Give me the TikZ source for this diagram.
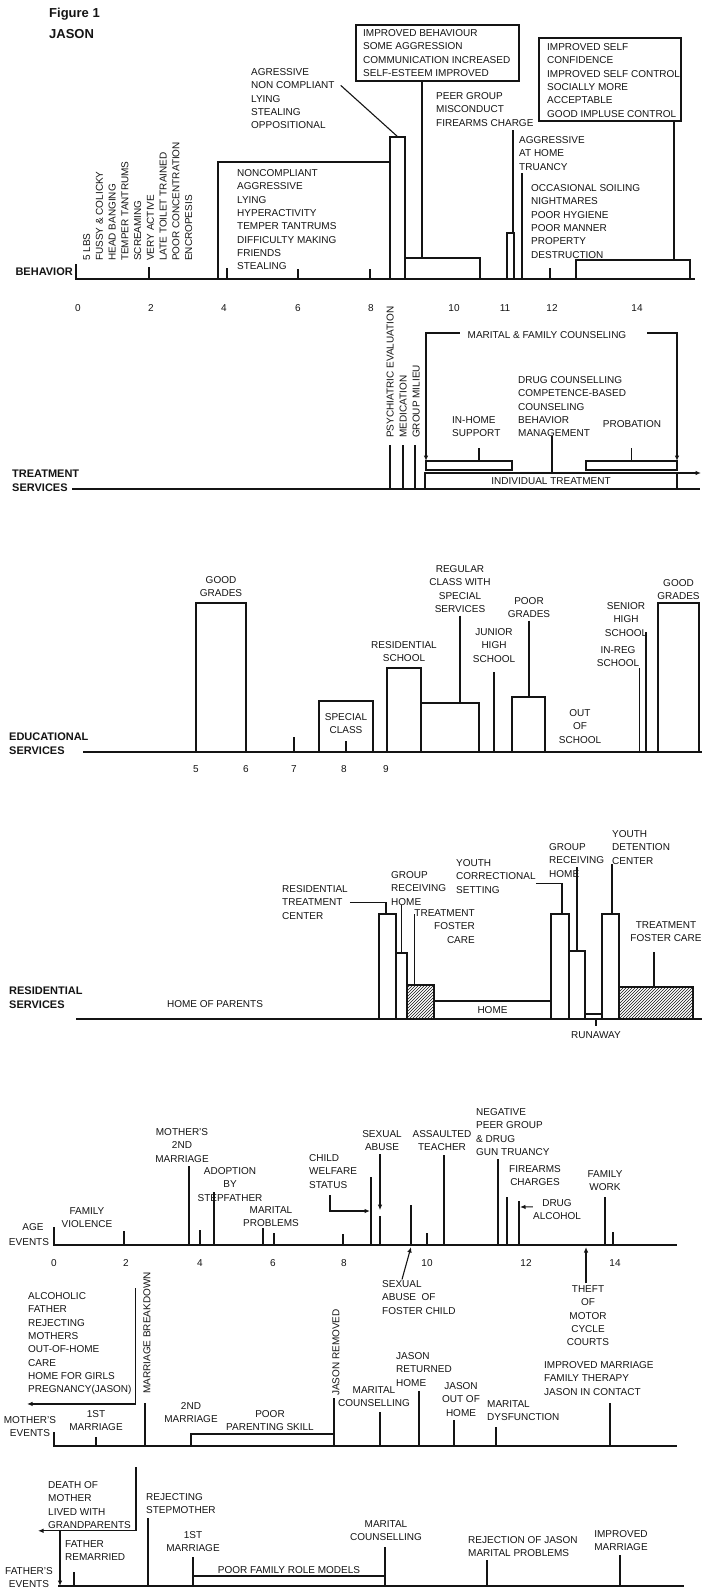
\documentclass[tikz,border=0pt]{standalone}
\usepackage{fontspec}
\setmainfont{Liberation Sans}
\usepackage{tikz}
\usetikzlibrary{arrows.meta,positioning,calc,patterns}
\definecolor{ink}{RGB}{20,20,20}
\tikzset{
  txt/.style={inner sep=0pt, text=ink, font=\fontsize{10}{13.3}\selectfont, align=left},
  ctxt/.style={txt, align=center},
  vtxt/.style={txt, rotate=90},
  axlbl/.style={inner sep=0pt, text=ink, font=\bfseries\fontsize{11}{14}\selectfont, align=left},
  ttl/.style={inner sep=0pt, text=ink, font=\bfseries\fontsize{13}{15}\selectfont, anchor=west},
  sbox/.style={txt, draw=ink, line width=1.4pt, outer sep=0pt, anchor=south west},
  hbox/.style={sbox, pattern=north east lines, pattern color=ink},
  tline/.style={draw=ink, line width=2.5pt},
  lead/.style={draw=ink, line width=1.1pt},
  evt/.style={draw=ink, line width=1.4pt},
  arr/.style={draw=ink, line width=1.1pt, -{Latex[length=5.5pt,width=4.5pt]}},
}

\begin{document}
\begin{tikzpicture}[x=1pt,y=-1pt]
  \useasboundingbox (0,0) rectangle (703,1590);
  \node[ttl] (fig) at (49,14) {Figure 1};
  \node[ttl] (jason) at (49,34) {JASON};

  % behavior
  \node[axlbl, anchor=east] (behLbl) at (73,272) {BEHAVIOR};
  \coordinate (b0) at (76,279);
  \coordinate (bEnd) at (695,279);
  \draw[tline] ([yshift=15pt]b0) -- (b0) -- (bEnd);
  \foreach \x/\h in {149/12,227/11,298/10,370/10,550/11}
    \draw[lead] (\x,279) -- ++(0,-\h);
  \node[vtxt, anchor=north west, font=\fontsize{10}{12.75}\selectfont] (bEarly) at (83,261)
    {5 LBS\\FUSSY \& COLICKY\\HEAD BANGING\\TEMPER TANTRUMS\\SCREAMING\\VERY ACTIVE\\LATE TOILET TRAINED\\POOR CONCENTRATION\\ENCROPESIS};
  \node[sbox, minimum width=172pt, minimum height=117pt] (bxA) at (218,279) {};
  \node[txt, anchor=north west] (bA) at ([xshift=19pt,yshift=-7.4pt]bxA.north west)
    {NONCOMPLIANT\\AGGRESSIVE\\LYING\\HYPERACTIVITY\\TEMPER TANTRUMS\\DIFFICULTY MAKING\\FRIENDS\\STEALING};
  \node[sbox, minimum width=15pt, minimum height=142pt] (bxB) at (390,279) {};
  \node[txt, anchor=north west] (bB) at (251,68.4) {AGRESSIVE\\NON COMPLIANT\\LYING\\STEALING\\OPPOSITIONAL};
  \draw[lead] ([xshift=6pt,yshift=-17pt]bB.north east) -- ([xshift=8pt]bxB.north west);
  \node[sbox, minimum width=75pt, minimum height=21pt] (bxC) at (405,279) {};
  \node[sbox, minimum width=163pt, minimum height=56pt] (bxD) at (356,81) {};
  \node[txt, anchor=north west] (bD) at ([xshift=7pt,yshift=-4.4pt]bxD.north west)
    {IMPROVED BEHAVIOUR\\SOME AGGRESSION\\COMMUNICATION INCREASED\\SELF-ESTEEM IMPROVED};
  \draw[lead] ([xshift=66pt]bxD.south west) -- ([xshift=17pt]bxC.north west);
  \node[txt, anchor=north west] (bP) at (436,92.4) {PEER GROUP\\MISCONDUCT\\FIREARMS CHARGE};
  \node[sbox, minimum width=7pt, minimum height=46pt] (bxE) at (507,279) {};
  \draw[lead] ([xshift=6pt]bxE.north west) -- ([xshift=6pt,yshift=103pt]bxE.north west);
  \node[txt, anchor=north west] (bH) at (519,136.4) {AGGRESSIVE\\AT HOME\\TRUANCY};
  \coordinate (bTru) at (522,279);
  \draw[lead] (bTru) -- ([xshift=3pt,yshift=-3pt]bH.south west);
  \node[txt, anchor=north west] (bO) at (531,184.4)
    {OCCASIONAL SOILING\\NIGHTMARES\\POOR HYGIENE\\POOR MANNER\\PROPERTY\\DESTRUCTION};
  \node[sbox, minimum width=114pt, minimum height=19pt] (bxF) at (576,279) {};
  \node[sbox, minimum width=142pt, minimum height=83pt] (bxG) at (539,121) {};
  \node[txt, anchor=north west] (bG) at ([xshift=8pt,yshift=-5.4pt]bxG.north west)
    {IMPROVED SELF\\CONFIDENCE\\IMPROVED SELF CONTROL\\SOCIALLY MORE\\ACCEPTABLE\\GOOD IMPLUSE CONTROL};
  \draw[lead] ([xshift=135pt]bxG.south west) -- ([xshift=98pt]bxF.north west);
  \foreach \x/\a in {78/0,151/2,224/4,298/6,371/8,454/10,505/11,552/12,637/14}
    \node[txt] (bn\a) at (\x,308) {\a};

  % treatment
  \node[axlbl, anchor=north west] (trLbl) at (12,470) {TREATMENT\\SERVICES};
  \coordinate (t0) at (72,489);
  \coordinate (tEnd) at (700,489);
  \draw[tline] (t0) -- (tEnd);
  \node[vtxt, anchor=north west, font=\fontsize{10}{13}\selectfont] (tPsy) at (386.4,438)
    {PSYCHIATRIC EVALUATION\\MEDICATION\\GROUP MILIEU};
  \foreach \x in {390,403,415}
    \draw[lead] (\x,489) coordinate (tp\x) -- ++(0,-44);
  \node[sbox, minimum width=252pt, minimum height=16pt] (tInd) at (425,489) {INDIVIDUAL TREATMENT};
  \coordinate (tArr) at (701,473);
  \draw[arr] (tInd.north east) -- (tArr);
  \node[sbox, minimum width=86pt, minimum height=9pt] (tHome) at (426,470) {};
  \node[sbox, minimum width=91pt, minimum height=9pt] (tProb) at (586,470) {};
  \node[txt, anchor=north west] (tHomeTxt) at (452,416.4) {IN-HOME\\SUPPORT};
  \draw[lead] ([xshift=53pt]tHome.north west) -- ([xshift=27pt,yshift=-11pt]tHomeTxt.south west);
  \node[txt] (tProbTxt) at (632,424) {PROBATION};
  \draw[lead] (tProb.north) -- ++(0,-13);
  \node[txt, anchor=north west] (tDrug) at (518,376.4)
    {DRUG COUNSELLING\\COMPETENCE-BASED\\COUNSELING\\BEHAVIOR\\MANAGEMENT};
  \draw[lead] ([xshift=127pt]tInd.north west) -- ++(0,-37);
  \node[txt] (tMfc) at (547,335) {MARITAL \& FAMILY COUNSELING};
  \draw[arr] ([xshift=-8pt,yshift=2pt]tMfc.west) -| (tHome.north west);
  \draw[arr] ([xshift=21pt,yshift=2pt]tMfc.east) -| (tProb.north east);

  % educational
  \node[axlbl, anchor=north west] (edLbl) at (9,733) {EDUCATIONAL\\SERVICES};
  \coordinate (e0) at (83,752);
  \coordinate (eEnd) at (702,752);
  \draw[tline] (e0) -- (eEnd);
  \node[sbox, minimum width=50pt, minimum height=149pt] (edGa) at (196,752) {};
  \node[ctxt, anchor=south] (edGaTxt) at ([yshift=6pt]edGa.north) {GOOD\\GRADES};
  \draw[lead] (294,752) coordinate (ed7) -- ++(0,-15);
  \node[sbox, minimum width=54pt, minimum height=51pt] (edSp) at (319,752) {};
  \node[ctxt, anchor=north] (edSpTxt) at ([yshift=-12pt]edSp.north) {SPECIAL\\CLASS};
  \draw[lead] (edSp.south) -- ([yshift=11pt]edSp.south);
  \node[sbox, minimum width=34pt, minimum height=84pt] (edRs) at (387,752) {};
  \node[ctxt, anchor=south] (edRsTxt) at ([yshift=6pt]edRs.north) {RESIDENTIAL\\SCHOOL};
  \node[sbox, minimum width=58pt, minimum height=49pt] (edRg) at (421,752) {};
  \node[ctxt, anchor=south] (edRgTxt) at (460,612.6) {REGULAR\\CLASS WITH\\SPECIAL\\SERVICES};
  \draw[lead] ([yshift=-3pt]edRgTxt.south) -- (edRgTxt.south |- edRg.north);
  \node[ctxt, anchor=north] (edJr) at (494,628.4) {JUNIOR\\HIGH\\SCHOOL};
  \draw[lead] ([yshift=-10pt]edJr.south) -- (edJr.south |- e0);
  \node[sbox, minimum width=33pt, minimum height=55pt] (edPg) at (512,752) {};
  \node[ctxt, anchor=south] (edPgTxt) at (529,617.6) {POOR\\GRADES};
  \draw[lead] ([yshift=-3pt]edPgTxt.south) -- (edPgTxt.south |- edPg.north);
  \node[ctxt] (edOut) at (580,726.5) {OUT\\OF\\SCHOOL};
  \node[ctxt, anchor=north] (edIn) at (618,646.4) {IN-REG\\SCHOOL};
  \draw[lead] ([yshift=-1pt]edIn.south east) -- (edIn.south east |- e0);
  \node[ctxt, anchor=north] (edSr) at (626,602.4) {SENIOR\\HIGH\\SCHOOL};
  \coordinate (edSrL) at (646,632);
  \draw[lead] (edSrL) -- (edSrL |- e0);
  \node[sbox, minimum width=41pt, minimum height=149pt] (edGb) at (658,752) {};
  \node[ctxt, anchor=south] (edGbTxt) at ([yshift=3pt]edGb.north) {GOOD\\GRADES};
  \foreach \x/\a in {196/5,246/6,294/7,344/8,386/9}
    \node[txt] (en\a) at (\x,769) {\a};

  % residential
  \node[axlbl, anchor=north west] (rsLbl) at (9,987) {RESIDENTIAL\\SERVICES};
  \coordinate (r0) at (76,1019);
  \coordinate (rEnd) at (702,1019);
  \draw[tline] (r0) -- (rEnd);
  \node[txt] (rsHop) at (215,1004) {HOME OF PARENTS};
  \node[sbox, minimum width=17pt, minimum height=105pt] (rsRtc) at (379,1019) {};
  \node[sbox, minimum width=11pt, minimum height=66pt] (rsGr1) at (396,1019) {};
  \node[hbox, minimum width=27pt, minimum height=34pt] (rsTf1) at (407,1019) {};
  \node[sbox, minimum width=117pt, minimum height=18pt] (rsHome) at (434,1019) {HOME};
  \node[sbox, minimum width=18pt, minimum height=105pt] (rsYc) at (551,1019) {};
  \node[sbox, minimum width=16pt, minimum height=68pt] (rsGr2) at (569,1019) {};
  \node[sbox, minimum width=17pt, minimum height=5pt] (rsRun) at (585,1019) {};
  \node[sbox, minimum width=17pt, minimum height=105pt] (rsYdc) at (602,1019) {};
  \node[hbox, minimum width=74pt, minimum height=32pt] (rsTf2) at (619,1019) {};
  \node[txt, anchor=north west] (rsRtcTxt) at (282,885.4) {RESIDENTIAL\\TREATMENT\\CENTER};
  \draw[lead] ([xshift=2pt]rsRtcTxt.east) -| ([xshift=7pt]rsRtc.north west);
  \node[txt, anchor=north west] (rsGr1Txt) at (391,871.4) {GROUP\\RECEIVING\\HOME};
  \draw[lead] (rsGr1.north) -- (rsGr1.north |- rsGr1Txt.south);
  \node[txt, align=right, anchor=north east] (rsTf1Txt) at (475,909.4) {TREATMENT\\FOSTER\\CARE};
  \draw[lead] ([yshift=-5pt]rsTf1Txt.north west) -- (rsTf1Txt.north west |- rsTf1.north);
  \node[txt, anchor=north west] (rsYcTxt) at (456,859.4) {YOUTH\\CORRECTIONAL\\SETTING};
  \draw[lead] ([yshift=-7pt]rsYcTxt.east) -| ([xshift=11pt]rsYc.north west);
  \node[txt, anchor=north west] (rsGr2Txt) at (549,843.4) {GROUP\\RECEIVING\\HOME};
  \coordinate (rsGr2Top) at (577,867);
  \draw[lead] (rsGr2.north) -- (rsGr2Top);
  \node[txt, anchor=north west] (rsYdcTxt) at (612,830.4) {YOUTH\\DETENTION\\CENTER};
  \draw[lead] (rsYdcTxt.south west) -- (rsYdcTxt.south west |- rsYdc.north);
  \node[ctxt, anchor=north] (rsTf2Txt) at (666,921.4) {TREATMENT\\FOSTER CARE};
  \draw[lead] ([xshift=35pt]rsTf2.north west) -- ([xshift=35pt,yshift=35pt]rsTf2.north west);
  \node[txt] (rsRunTxt) at (596,1035) {RUNAWAY};
  \draw[lead] (rsRunTxt.north |- rsRun.south) -- ([yshift=5pt]rsRunTxt.north);

  % age events
  \node[txt] (agLbl) at (33,1227) {AGE};
  \node[txt] (agLbl2) at (29,1242) {EVENTS};
  \coordinate (a0) at (54,1245);
  \coordinate (aEnd) at (677,1245);
  \draw[tline] ([yshift=18pt]a0) -- (a0) -- (aEnd);
  \foreach \x/\h in {124/14,200/15,263/17,274/12,343/11,427/12,613/13,380/29,189/79,371/68,411/40,444/90,498/86,507/48,519/44,605/48}
    \draw[evt] (\x,1245) coordinate (ak\x) -- ++(0,-\h);
  \draw[evt, line width=2pt] (214,1245) coordinate (ak214) -- ++(0,-53);
  \node[ctxt] (agFv) at (87,1217.5) {FAMILY\\VIOLENCE};
  \node[ctxt, anchor=north] (agM2) at (182,1128.4) {MOTHER'S\\2ND\\MARRIAGE};
  \node[ctxt, anchor=north] (agAd) at (230,1167.4) {ADOPTION\\BY\\STEPFATHER};
  \node[ctxt] (agMp) at (271,1216.5) {MARITAL\\PROBLEMS};
  \node[txt, anchor=north west] (agCw) at (309,1154.4) {CHILD\\WELFARE\\STATUS};
  \coordinate (cwMark) at (370,1211);
  \draw[arr] ([xshift=21pt,yshift=-7pt]agCw.south west) |- (cwMark);
  \node[ctxt, anchor=north] (agSa) at (382,1130.4) {SEXUAL\\ABUSE};
  \draw[arr] ([xshift=-2pt,yshift=-3pt]agSa.south) -- ([xshift=-2pt,yshift=-59pt]agSa.south);
  \node[txt, anchor=north west] (agSf) at (382,1280.4) {SEXUAL\\ABUSE~~OF\\FOSTER CHILD};
  \coordinate (sfMark) at (411,1247);
  \draw[arr] ([xshift=20pt,yshift=1pt]agSf.north west) -- (sfMark);
  \node[ctxt, anchor=north] (agAt) at (442,1130.4) {ASSAULTED\\TEACHER};
  \node[txt, anchor=north west] (agNp) at (476,1108.4) {NEGATIVE\\PEER GROUP\\\& DRUG\\GUN TRUANCY};
  \node[ctxt, anchor=north] (agFc) at (535,1165.4) {FIREARMS\\CHARGES};
  \node[ctxt, anchor=north] (agDa) at (557,1199.4) {DRUG\\ALCOHOL};
  \coordinate (drugMark) at (520,1207);
  \draw[arr] ([yshift=3pt]agDa.west) -- (drugMark);
  \node[ctxt, anchor=north] (agFw) at (605,1170.4) {FAMILY\\WORK};
  \node[ctxt, anchor=north] (agTh) at (588,1285.4) {THEFT\\OF\\MOTOR\\CYCLE\\COURTS};
  \coordinate (thMark) at (586,1247);
  \draw[arr] ([xshift=-2pt,yshift=2pt]agTh.north) -- (thMark);
  \foreach \x/\a in {54/0,126/2,200/4,273/6,344/8,427/10,526/12,615/14}
    \node[txt] (an\a) at (\x,1263) {\a};

  % mother's events
  \node[ctxt, anchor=north] (moLbl) at (30,1416.4) {MOTHER'S\\EVENTS};
  \coordinate (m0) at (54,1446);
  \coordinate (mEnd) at (677,1446);
  \draw[tline] ([yshift=14pt]m0) -- (m0) -- (mEnd);
  \node[txt, anchor=north west] (moList) at (28,1292.4)
    {ALCOHOLIC\\FATHER\\REJECTING\\MOTHERS\\OUT-OF-HOME\\CARE\\HOME FOR GIRLS\\PREGNANCY(JASON)};
  \draw[arr] ([xshift=4pt,yshift=4pt]moList.north east) |- ([xshift=-1pt,yshift=-9pt]moList.south west);
  \node[vtxt, anchor=west] (moMb) at (147,1394) {MARRIAGE BREAKDOWN};
  \node[ctxt, anchor=north] (mo1m) at (96,1410.4) {1ST\\MARRIAGE};
  \node[ctxt, anchor=north] (mo2m) at (191,1402.4) {2ND\\MARRIAGE};
  \node[ctxt, anchor=north] (moPp) at (270,1410.4) {POOR\\PARENTING SKILL};
  \node[vtxt, anchor=west] (moJr) at (336,1396) {JASON REMOVED};
  \coordinate (poorEnd) at (334,1434);
  \draw[lead] (mo2m.south |- m0) |- (poorEnd);
  \node[ctxt, anchor=north] (moMc) at (374,1386.4) {MARITAL\\COUNSELLING};
  \node[txt, anchor=north west] (moJh) at (396,1352.4) {JASON\\RETURNED\\HOME};
  \node[ctxt, anchor=north] (moJo) at (461,1382.4) {JASON\\OUT OF\\HOME};
  \node[txt, anchor=north west] (moMd) at (487,1400.4) {MARITAL\\DYSFUNCTION};
  \node[txt, anchor=north west] (moIm) at (544,1361.4) {IMPROVED MARRIAGE\\FAMILY THERAPY\\JASON IN CONTACT};
  \foreach \x/\h in {96/9,145/43,334/48,380/34,419/55,454/26,496/19,610/43}
    \draw[lead] (\x,1446) coordinate (mk\x) -- ++(0,-\h);

  % father's events
  \node[ctxt, anchor=north] (faLbl) at (29,1567.4) {FATHER'S\\EVENTS};
  \coordinate (f0) at (58,1586);
  \coordinate (fEnd) at (684,1586);
  \draw[tline] (f0) -- (fEnd);
  \node[txt, anchor=north west] (faDm) at (48,1481.4) {DEATH OF\\MOTHER\\LIVED WITH\\GRANDPARENTS};
  \draw[arr] ([xshift=5pt,yshift=14pt]faDm.north east) |- ([xshift=-10pt,yshift=-2pt]faDm.south west);
  \draw[arr] ([xshift=12pt,yshift=-2pt]faDm.south west) -- ([xshift=2pt]f0);
  \node[txt, anchor=north west] (faFr) at (65,1540.4) {FATHER\\REMARRIED};
  \node[txt, anchor=north west] (faRs) at (146,1493.4) {REJECTING\\STEPMOTHER};
  \node[ctxt, anchor=north] (fa1m) at (193,1531.4) {1ST\\MARRIAGE};
  \node[txt] (faPf) at (289,1570) {POOR FAMILY ROLE MODELS};
  \coordinate (poorFa) at (385,1576);
  \draw[lead] (fa1m.south |- poorFa) -- (poorFa);
  \node[ctxt, anchor=north] (faMc) at (386,1520.4) {MARITAL\\COUNSELLING};
  \node[txt, anchor=north west] (faRj) at (468,1536.4) {REJECTION OF JASON\\MARITAL PROBLEMS};
  \node[ctxt, anchor=north] (faIm) at (621,1530.4) {IMPROVED\\MARRIAGE};
  \foreach \x/\h in {74/14,148/68,193/29,385/39,487/26,620/31}
    \draw[lead] (\x,1586) coordinate (fk\x) -- ++(0,-\h);
\end{tikzpicture}
\end{document}
